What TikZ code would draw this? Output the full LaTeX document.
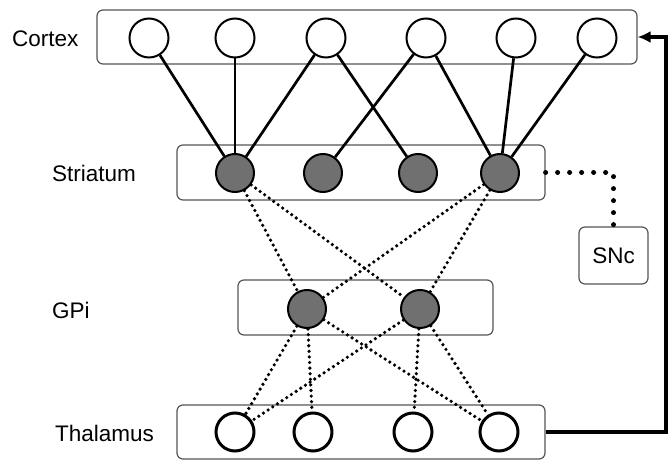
\documentclass[tikz,border=0pt]{standalone}
\usepackage{fontspec}
\setmainfont{Liberation Sans}
\usetikzlibrary{arrows.meta}
\definecolor{cellgray}{RGB}{112,112,112}
\definecolor{boxline}{RGB}{85,85,85}
\begin{document}
\begin{tikzpicture}[x=1pt,y=-1pt,
  font=\fontsize{22.5}{27}\selectfont,
  layer/.style={draw=boxline, line width=1.2pt, rounded corners=6pt, rectangle, inner sep=0pt},
  inputcell/.style={draw, circle, line width=2pt, fill=white, minimum size=39pt, inner sep=0pt},
  relaycell/.style={draw, circle, line width=3pt, fill=white, minimum size=38pt, inner sep=0pt},
  innercell/.style={draw, circle, line width=2pt, fill=cellgray, minimum size=38pt, inner sep=0pt},
  excite/.style={line width=2.7pt},
  inhib/.style={line width=3.6pt, line cap=round, dash pattern=on 0pt off 5.6pt},
  dopamine/.style={line width=5pt, line cap=round, dash pattern=on 0pt off 12pt},
  feedback/.style={line width=3.5pt, -{Latex[length=13pt,width=12pt]}},
  area/.style={anchor=west, inner sep=0pt}]
\useasboundingbox (0,0) rectangle (670,462);

% layer frames
\node[layer, minimum width=540pt, minimum height=54pt] (cbox) at (367,37) {};
\node[layer, minimum width=368pt, minimum height=55pt] (sbox) at (361,172.5) {};
\node[layer, minimum width=255pt, minimum height=55pt] (gbox) at (365.5,307.5) {};
\node[layer, minimum width=368pt, minimum height=54pt] (tbox) at (361,432) {};
\node[layer, minimum width=69pt, minimum height=57pt] (snc) at (613.5,255.5) {SNc};

% layer names
\node[area] (lc) at (12,39) {Cortex};
\node[area] (ls) at (52,173) {Striatum};
\node[area] (lg) at (52,310) {GPi};
\node[area] (lt) at (55,433) {Thalamus};

% cell positions
\coordinate (c1) at (149,38);
\coordinate (c2) at (235,38);
\coordinate (c3) at (326,38);
\coordinate (c4) at (426,38);
\coordinate (c5) at (516,38);
\coordinate (c6) at (597,38);
\coordinate (s1) at (235,173);
\coordinate (s2) at (323,173);
\coordinate (s3) at (418,173);
\coordinate (s4) at (500,173);
\coordinate (g1) at (307,309);
\coordinate (g2) at (420,309);
\coordinate (t1) at (235,432);
\coordinate (t2) at (313,432);
\coordinate (t3) at (413,432);
\coordinate (t4) at (499,432);

% cortex cells
\node[inputcell] (C1) at (c1) {};
\node[inputcell] (C2) at (c2) {};
\node[inputcell] (C3) at (c3) {};
\node[inputcell] (C4) at (c4) {};
\node[inputcell] (C5) at (c5) {};
\node[inputcell] (C6) at (c6) {};
% striatum cells
\node[innercell] (S1) at (s1) {};
\node[innercell] (S2) at (s2) {};
\node[innercell] (S3) at (s3) {};
\node[innercell] (S4) at (s4) {};
% GPi cells
\node[innercell] (G1) at (g1) {};
\node[innercell] (G2) at (g2) {};
% thalamus cells
\node[relaycell] (T1) at (t1) {};
\node[relaycell] (T2) at (t2) {};
\node[relaycell] (T3) at (t3) {};
\node[relaycell] (T4) at (t4) {};

% cortex to striatum
\draw[excite] (C1) -- (S1);
\draw[excite] (C2) -- (S1);
\draw[excite] (C3) -- (S1);
\draw[excite] (C3) -- (S3);
\draw[excite] (C4) -- (S2);
\draw[excite] (C4) -- (S4);
\draw[excite] (C5) -- (S4);
\draw[excite] (C6) -- (S4);

% striatum to GPi
\draw[inhib] (S1) -- (G1);
\draw[inhib] (S1) -- (G2);
\draw[inhib] (S4) -- (G1);
\draw[inhib] (S4) -- (G2);

% GPi to thalamus
\draw[inhib] (G1) -- (T1);
\draw[inhib] (G1) -- (T2);
\draw[inhib] (G1) -- (T4);
\draw[inhib] (G2) -- (T1);
\draw[inhib] (G2) -- (T3);
\draw[inhib] (G2) -- (T4);

% SNc projection
\coordinate (sncbend) at (613.5,172.5);
\draw[dopamine] (sbox.east) -- (sncbend) -- (snc.north);

% thalamic feedback to cortex
\coordinate (fbdown) at (666,432);
\coordinate (fbup) at (666,37);
\draw[feedback] (tbox.east) -- (fbdown) -- (fbup) -- (cbox.east);
\end{tikzpicture}
\end{document}
